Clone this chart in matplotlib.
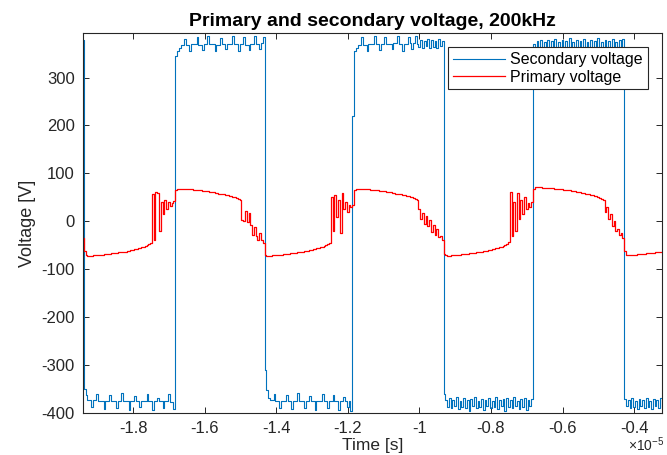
import matplotlib
matplotlib.use('Agg')
import matplotlib.pyplot as plt
import numpy as np
from matplotlib.ticker import FuncFormatter

# scope record: sample clock (s)
T_START = -1.945e-5
DT = 0.005e-5

# secondary voltage [V], one line per half period
secondary_v = (
    [380, 378]
    + [-350, -362, -372, -372, -388, -372, -372, -360, -374, -374,
       -374, -392, -375, -375, -362, -376, -376, -376, -390, -374,
       -374, -358, -375, -375, -375, -393, -376, -376, -365, -374,
       -374, -388, -374, -374, -374, -360, -376, -376, -394, -375,
       -375, -368, -376, -376, -389, -374, -374, -360, -377, -377, -392]
    + [345, 355, 362, 368, 368, 380, 368, 368, 355, 370,
       370, 370, 384, 369, 369, 358, 370, 370, 386, 370,
       370, 370, 356, 369, 369, 382, 370, 370, 360, 371,
       371, 371, 386, 370, 370, 356, 370, 370, 384, 369,
       369, 358, 371, 371, 386, 370, 370, 360, 372, 384]
    + [-310, -352, -368, -372, -372, -360, -374, -374, -390, -374,
       -374, -374, -362, -375, -375, -392, -375, -375, -358, -376,
       -376, -376, -390, -374, -374, -364, -375, -375, -393, -376,
       -376, -376, -360, -375, -375, -390, -374, -374, -362, -376,
       -376, -394, -375, -375, -366, -376, -388, -376, -395, 220]
    + [355, 362, 368, 368, 384, 369, 369, 356, 370, 370,
       370, 386, 370, 370, 358, 371, 371, 384, 370, 370,
       370, 360, 372, 372, 386, 371, 371, 356, 370, 370,
       384, 372, 360, 372, 386, 370,
       364, 378, 362, 376, 366, 380, 362, 378, 364, 376, 362, 380, 366, 376]
    + [-360, -372, -388, -368, -390, -372, -386, -366, -392, -374,
       -388, -368, -390, -372, -396, -370, -386, -366, -390, -374,
       -388, -370, -394, -372, -386, -368, -390, -374, -388, -366,
       -392, -372, -386, -370, -396, -368, -388, -372, -390, -366,
       -386, -374, -392, -370, -388, -368, -394, -372, -386, -370]
    + [370, 362, 376, 360, 378, 364, 374, 358, 378, 362,
       376, 364, 380, 360, 374, 362, 378, 364, 376, 360,
       382, 362, 374, 364, 378, 360, 376, 362, 380, 364,
       374, 360, 378, 362, 376, 364, 382, 360, 374, 362,
       378, 364, 376, 360, 380, 362, 374, 364, 378, 362, 380]
    + [-370, -386, -372, -390, -368, -388, -374, -392, -370, -386, -372,
       -390, -368, -388, -374, -392, -370, -386, -372, -390, -368, -388]
)

# primary voltage [V], same samples
primary_v = (
    [-30, -35]
    + [-62, -70, -72, -72, -72, -71, -71, -71, -70, -70,
       -70, -69, -69, -68, -68, -67, -67, -66, -66, -65,
       -65, -64, -63, -63, -62, -61, -60, -59, -58, -57,
       -56, -55, -54, -53, -52, -50, -48, -46,
       58, -40, 62, 60, -20, 40, 15, 45, 25, 40, 32, 38, 42]
    + [66, 68, 68, 68, 68, 68, 67, 67, 67, 67,
       66, 66, 66, 65, 65, 64, 64, 63, 63, 62,
       61, 61, 60, 59, 58, 58, 57, 56, 55, 54,
       53, 52, 51, 50, 48, 47, 45,
       2, 0, 22, -2, 18, -8, -28, -12, -30, -38, -25, -40, -45]
    + [-70, -72, -72, -72, -71, -71, -71, -70, -70, -70,
       -69, -69, -68, -68, -67, -67, -66, -66, -65, -65,
       -64, -63, -62, -62, -61, -60, -59, -58, -57, -56,
       -55, -54, -53, -52, -50, -48, -46,
       50, -20, 55, 10, 45, -25, 60, 25, 40, 20, 35, 30, 35]
    + [66, 68, 68, 68, 68, 68, 67, 67, 67, 66,
       66, 66, 65, 65, 64, 64, 63, 63, 62, 61,
       61, 60, 59, 58, 57, 57, 56, 55, 54, 53,
       52, 51, 50, 49, 47, 45,
       25, 5, 18, -5, 12, -10, 2, -22, -8, -28, -15, -32, -30, -40]
    + [-68, -71, -72, -72, -71, -71, -71, -70, -70, -70,
       -69, -69, -68, -68, -67, -67, -66, -66, -65, -64,
       -64, -63, -62, -62, -61, -60, -59, -58, -57, -56,
       -55, -54, -53, -51, -49, -47, -44,
       62, -30, 40, -20, 60, 5, 45, 15, 50, 25, 38, 30, 40]
    + [68, 71, 71, 71, 71, 70, 70, 70, 70, 69,
       69, 69, 68, 68, 68, 67, 67, 66, 66, 65,
       65, 64, 63, 63, 62, 61, 61, 60, 59, 58,
       57, 56, 55, 54, 53, 52, 51, 49, 47, 45,
       20, 30, 5, 15, -10, 0, -20, -15, -28, -25, -35]
    + [-62, -70, -71, -71, -70, -70, -70, -69, -69, -69, -68,
       -68, -67, -67, -67, -66, -66, -65, -65, -64, -64, -63]
)

x_ticks = [-1.8, -1.6, -1.4, -1.2, -1.0, -0.8, -0.6, -0.4]  # x 1e-5 s
y_ticks = [-400, -300, -200, -100, 0, 100, 200, 300]


def main():
    plt.rcParams['font.family'] = ['Liberation Sans', 'DejaVu Sans']
    plt.rcParams['axes.unicode_minus'] = False
    plt.rcParams['mathtext.fontset'] = 'custom'
    plt.rcParams['mathtext.rm'] = 'Liberation Sans'

    assert len(secondary_v) == len(primary_v)
    t = T_START + DT * np.arange(len(secondary_v))

    fig = plt.figure(figsize=(6.67, 4.55), dpi=100)
    ax = fig.add_axes([83 / 667, 42 / 455, 579 / 667, 380 / 455])
    ax.plot(t, secondary_v, color='#0072BD', lw=0.8, drawstyle='steps-mid',
            label='Secondary voltage')
    ax.plot(t, primary_v, color='#FF0000', lw=0.9, drawstyle='steps-mid',
            label='Primary voltage')

    ax.set_xlim(-1.94e-5, -0.322e-5)
    ax.set_ylim(-400, 393)
    ax.set_xticks([v * 1e-5 for v in x_ticks])
    ax.set_yticks(y_ticks)
    ax.xaxis.set_major_formatter(FuncFormatter(lambda v, _: '%g' % round(v * 1e5, 6)))

    gray = '#262626'
    ax.tick_params(direction='in', top=True, right=True, length=4, width=0.7,
                   labelsize=12, colors=gray, pad=6)
    for s in ax.spines.values():
        s.set_color(gray)
        s.set_linewidth(0.8)

    ax.set_title('Primary and secondary voltage, 200kHz', fontsize=14,
                 fontweight='bold', pad=5)
    ax.set_xlabel('Time [s]', fontsize=12.5, color=gray, labelpad=1)
    ax.set_ylabel('Voltage [V]', fontsize=13, color=gray, labelpad=4)
    fig.text(664 / 667, 0.5 / 455, r'$\times10^{-5}$', ha='right', va='bottom',
             fontsize=10, color=gray)

    leg = ax.legend(loc='upper right', fontsize=11.5, fancybox=False,
                    framealpha=1, edgecolor=gray, borderaxespad=0.9,
                    handlelength=3.3, handletextpad=0.3, borderpad=0.3,
                    labelspacing=0.15)
    leg.get_frame().set_linewidth(0.8)

    fig.savefig('out.png', dpi=100)


if __name__ == '__main__':
    main()
